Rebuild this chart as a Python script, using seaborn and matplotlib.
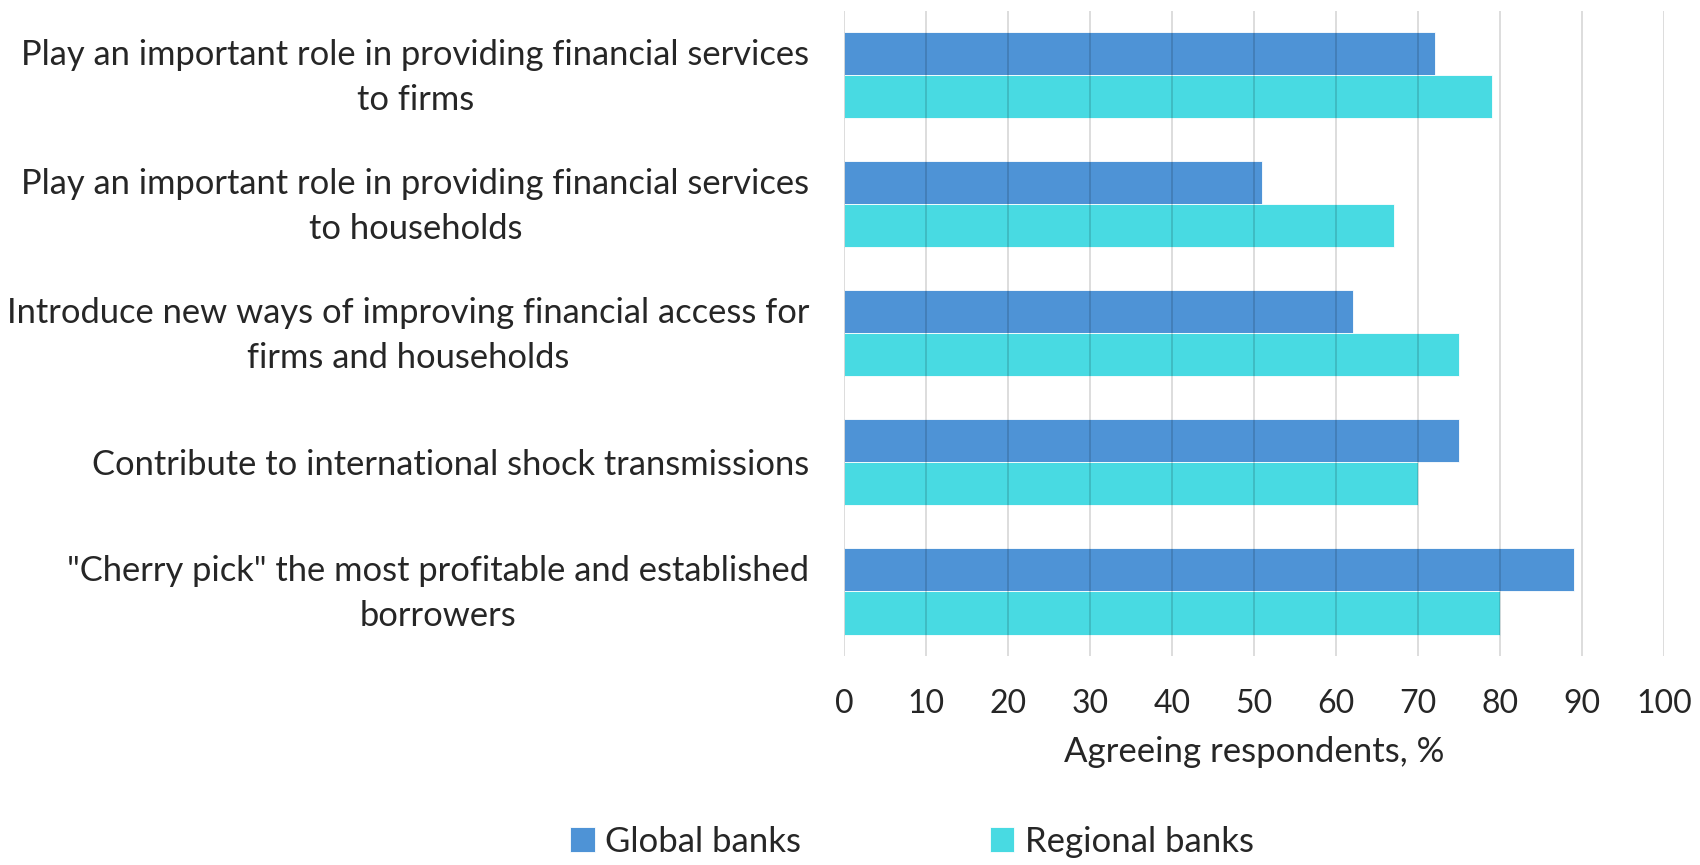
import pandas as pd
import seaborn as sns
import matplotlib.pyplot as plt
from matplotlib.transforms import ScaledTranslation

categories = [
    "Play an important role in providing financial services\nto firms",
    "Play an important role in providing financial services\nto households",
    "Introduce new ways of improving financial access for\nfirms and households",
    "Contribute to international shock transmissions",
    "\"Cherry pick\" the most profitable and established\nborrowers",
]
global_banks = [72, 51, 62, 75, 89]
regional_banks = [79, 67, 75, 70, 80]
series_names = ["Global banks", "Regional banks"]
colors = ["#4E93D6", "#48DAE2"]

df = pd.DataFrame({
    "statement": categories * 2,
    "value": global_banks + regional_banks,
    "group": [series_names[0]] * len(categories) + [series_names[1]] * len(categories),
})

sns.set_style("white")
plt.rcParams["font.family"] = ["Lato", "DejaVu Sans"]
plt.rcParams["font.size"] = 25

fig = plt.figure(figsize=(17, 8.65), dpi=100)
ax = fig.add_axes([0.4965, 0.2416, 0.4825, 0.746])

sns.barplot(
    data=df, x="value", y="statement", hue="group", orient="h",
    palette=colors, width=2 / 3, saturation=1, ax=ax,
    edgecolor="white", linewidth=0.6,
)

ax.set_xlim(0, 100)
ax.set_ylim(4.5, -0.5)
ax.set_xticks(range(0, 101, 10))
ax.grid(axis="x", color="black", alpha=0.15, linewidth=1.3, zorder=5)
ax.set_axisbelow(False)
for sp in ax.spines.values():
    sp.set_visible(False)

ax.tick_params(axis="y", length=0, pad=25, labelsize=24.8)
ax.tick_params(axis="x", length=0, pad=24, labelsize=23)
# two-line labels sit a bit low, nudge them up
shift = ScaledTranslation(0, 5.5 / 72, fig.dpi_scale_trans)
for lbl in ax.get_yticklabels():
    lbl.set_multialignment("center")
    lbl.set_linespacing(1.5)
    if "\n" in lbl.get_text():
        lbl.set_transform(lbl.get_transform() + shift)

ax.set_ylabel("")
ax.set_xlabel("Agreeing respondents, %", fontsize=25, labelpad=12)

handles, labels = ax.get_legend_handles_labels()
ax.legend_.remove()
fig.legend(
    handles, labels, loc="center", bbox_to_anchor=(0.5365, 0.027),
    ncol=2, frameon=False, fontsize=25, handlelength=0.7, handleheight=0.7,
    handletextpad=0.3, columnspacing=5.45,
)

plt.savefig("out.png", dpi=100)
plt.close()
